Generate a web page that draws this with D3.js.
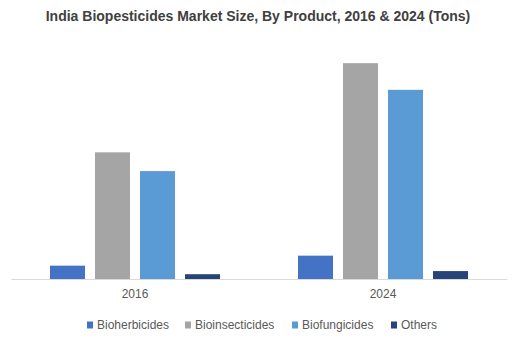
<!DOCTYPE html>
<html>
<head>
<meta charset="utf-8">
<script src="https://cdn.jsdelivr.net/npm/d3@7"></script>
<style>
  body { margin: 0; background: #fff; }
  text { font-family: "Liberation Sans", Arial, sans-serif; }
</style>
</head>
<body>
<div class="chart"></div>
<script>
const years = ["2016", "2024"];
const products = ["Bioherbicides", "Bioinsecticides", "Biofungicides", "Others"];
const colors = ["#4472c4", "#a5a5a5", "#5b9bd5", "#264478"];
const bioherbicides = [320, 560];
const bioinsecticides = [3040, 5180];
const biofungicides = [2590, 4540];
const others = [115, 190];
const yMax = 6000;

const series = [bioherbicides, bioinsecticides, biofungicides, others];

const width = 524, height = 352;
const baseline = 279;

const svg = d3.select(".chart").append("svg")
    .attr("width", width)
    .attr("height", height);

svg.append("text")
    .attr("x", 258)
    .attr("y", 21)
    .attr("text-anchor", "middle")
    .attr("font-size", 14)
    .attr("font-weight", "bold")
    .attr("fill", "#404040")
    .text("India Biopesticides Market Size, By Product, 2016 & 2024 (Tons)");

const x0 = d3.scaleBand()
    .domain(years)
    .range([11, 507]);

const x1 = d3.scaleBand()
    .domain(products)
    .range([-85, 85])
    .paddingInner(10 / 45);

const y = d3.scaleLinear()
    .domain([0, yMax])
    .range([baseline, baseline - 250]);

const data = [];
years.forEach((yr, i) => {
    products.forEach((p, j) => {
        data.push({year: yr, key: p, value: series[j][i], color: colors[j]});
    });
});

svg.selectAll(".bar")
    .data(data)
    .enter()
    .append("rect")
    .attr("class", "bar")
    .attr("x", d => x0(d.year) + x0.bandwidth() / 2 + x1(d.key))
    .attr("width", x1.bandwidth())
    .attr("y", d => y(d.value))
    .attr("height", d => y(0) - y(d.value))
    .attr("fill", d => d.color);

// baseline axis
const xAxis = d3.axisBottom(x0).tickSize(0).tickPadding(10);
const ax = svg.append("g")
    .attr("transform", `translate(0, ${baseline})`)
    .call(xAxis);
ax.select(".domain").attr("stroke", "#d9d9d9").attr("stroke-width", 1);
ax.selectAll("text")
    .attr("font-size", 12)
    .attr("fill", "#595959")
    .style("font-family", "'Liberation Sans', Arial, sans-serif");

// legend
const legendX = [87, 185, 292, 391];
const legend = svg.selectAll(".legend")
    .data(products)
    .enter()
    .append("g")
    .attr("class", "legend")
    .attr("transform", (d, i) => `translate(${legendX[i]}, 325)`);

legend.append("rect")
    .attr("x", 0)
    .attr("y", -3.5)
    .attr("width", 6)
    .attr("height", 7)
    .attr("fill", (d, i) => colors[i]);

legend.append("text")
    .attr("x", 10)
    .attr("y", 4)
    .attr("font-size", 12)
    .attr("fill", "#595959")
    .text(d => d);
</script>
</body>
</html>
